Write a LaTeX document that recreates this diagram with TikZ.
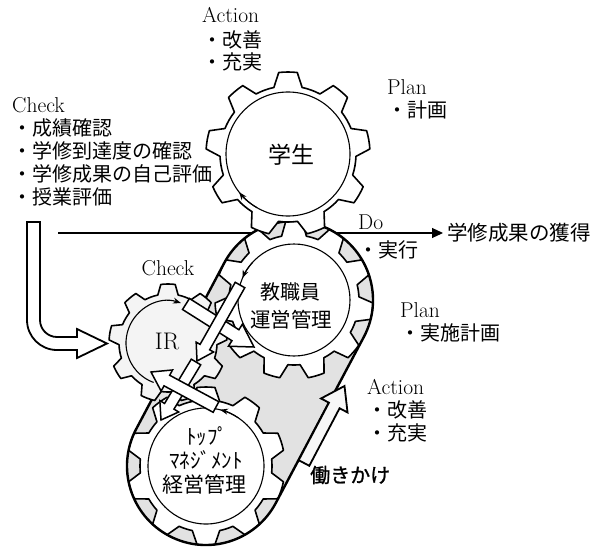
\documentclass[tikz,border=0pt]{standalone}
\usepackage{fontspec}
\newfontfamily\jp{Noto Sans CJK JP}
\newfontfamily\jpb[FakeBold=1.2]{Noto Sans CJK JP}
\usetikzlibrary{calc,arrows.meta}

\newcommand\blockarrow[6]{%
  \coordinate (hb) at ($(#3)!#6!(#2)$);
  \path[#1] ($(#2)!#4!90:(#3)$) -- ($(hb)!#4!90:(#3)$) -- ($(hb)!#5!90:(#3)$) -- (#3)
    -- ($(hb)!#5!-90:(#3)$) -- ($(hb)!#4!-90:(#3)$) -- ($(#2)!#4!-90:(#3)$) -- cycle;}

\tikzset{
  pics/gear/.style n args={6}{code={%
    \path[pic actions] ({#2-#5}:#3pt)
    \foreach \k [evaluate=\k as \a using #2+(\k-1)*360/#1] in {1,...,#1}{
      -- ({\a-#6}:#4pt) arc[start angle={\a-#6},end angle={\a+#6},radius=#4pt]
      -- ({\a+#5}:#3pt) arc[start angle={\a+#5},end angle={\a+360/#1-#5},radius=#3pt]
    } -- cycle;}},
  gearline/.style={draw=black, line width=1.6pt, line join=round},
  inner/.style={draw=black, line width=1.1pt},
  rot/.style={inner, -{Stealth[length=8pt,width=6pt]}},
  barrow/.style={draw=black, fill=white, line width=1.5pt, line join=miter},
  lat/.style={font=\fontsize{21.5}{24}\selectfont, inner sep=0pt},
  jtx/.style={font=\jp\fontsize{20}{24}\selectfont, inner sep=0pt},
}

\begin{document}
\begin{tikzpicture}[x=1pt,y=1pt]
\useasboundingbox (0,0) rectangle (601,-548);

% centres
\coordinate (TopC) at (288,-154);
\coordinate (M) at (294,-300);
\coordinate (B) at (206,-466);
\coordinate (IRc) at (168,-343);

% Do line
\node[font=\jp\fontsize{20.5}{24}\selectfont, inner sep=0pt, anchor=west] (goal) at (447,-233) {学修成果の獲得};
\coordinate (dostart) at (58,-233);
\draw[line width=1.1pt, -{Triangle[length=11pt,width=10pt]}] (dostart) -- ([xshift=-4pt]goal.west);

% capsule fill
\fill[gray!23] ($(M)+(-27.9:79pt)$) arc[start angle=-27.9,end angle=152.1,radius=79pt]
  -- ($(B)+(152.1:79pt)$) arc[start angle=152.1,end angle=332.1,radius=79pt] -- cycle;

% lower gears
\pic[gearline, fill=white] at (M) {gear={11}{90}{65}{79}{11}{6}};
\pic[gearline, fill=white] at (B) {gear={10}{90}{66}{79}{12}{6.5}};

% capsule outline
\draw[line width=2.4pt] ($(M)+(-27.9:79pt)$) arc[start angle=-27.9,end angle=152.1,radius=79pt]
  -- ($(B)+(152.1:79pt)$) arc[start angle=152.1,end angle=332.1,radius=79pt] -- cycle;

% working arrow
\coordinate (wtail) at (304,-463);
\coordinate (wtip) at (344.5,-386);
\blockarrow{draw=black, fill=gray!6, line width=1.8pt}{wtail}{wtip}{6pt}{15pt}{22pt}

% top gear
\pic[gearline, fill=white] at (TopC) {gear={9}{90}{68}{82}{12}{6.5}};
% IR gear
\pic[gearline, fill=gray!9] at (IRc) {gear={9}{90}{49}{59}{12}{7}};

% inner circles
\draw[inner] (TopC) circle[radius=62pt];
\draw[rot] ($(TopC)+(240:62pt)$) arc[start angle=240,end angle=218,radius=62pt];
\draw[inner] (M) circle[radius=56pt];
\draw[rot] ($(M)+(138:56pt)$) arc[start angle=138,end angle=157,radius=56pt];
\draw[inner] (B) circle[radius=58pt];
\draw[rot] ($(B)+(56:58pt)$) arc[start angle=56,end angle=76,radius=58pt];
\draw[rot] ($(IRc)+(250:42pt)$) arc[start angle=250,end angle=72,radius=42pt];

% white arrows between IR and the gears
\coordinate (ptail) at (186,-304);
\coordinate (ptip) at (254,-347);
\blockarrow{barrow}{ptail}{ptip}{6.5pt}{13pt}{22pt}
\coordinate (qtail) at (240,-285);
\coordinate (qtip) at (197,-361);
\blockarrow{barrow}{qtail}{qtip}{5.5pt}{10pt}{16pt}
\coordinate (rtail) at (196,-362);
\coordinate (rtip) at (161,-420);
\blockarrow{barrow}{rtail}{rtip}{5.5pt}{11pt}{16pt}
\coordinate (stail) at (216,-407);
\coordinate (stip) at (151,-372);
\blockarrow{barrow}{stail}{stip}{6pt}{12pt}{18pt}

% U-shaped arrow from Check list to IR
\draw[barrow, line width=1.8pt] (27,-222) -- (27,-320) arc[start angle=180,end angle=270,radius=30pt]
  -- (77,-350) -- (77,-358) -- (107,-343.5) -- (77,-329) -- (77,-337) -- (57,-337)
  arc[start angle=270,end angle=180,radius=17pt] -- (40,-222) -- cycle;

% gear labels
\node[font=\jp\fontsize{23}{26}\selectfont, inner sep=0pt] (t1) at (291,-155) {学生};
\node[font=\jp\fontsize{20}{24}\selectfont, inner sep=0pt] (t2a) at (290,-292) {教職員};
\node[font=\jp\fontsize{20.5}{24}\selectfont, inner sep=0pt] (t2b) at (291,-320) {運営管理};
\node[font=\fontsize{24}{26}\selectfont, inner sep=0pt] (t3) at (167,-341) {IR};
\node[font=\jp\fontsize{21}{24}\selectfont, inner sep=0pt] (t4a) at (207,-436) {ﾄｯﾌﾟ};
\node[font=\jp\fontsize{21}{24}\selectfont, inner sep=0pt] (t4b) at (206,-460) {ﾏﾈｼﾞﾒﾝﾄ};
\node[font=\jp\fontsize{21}{24}\selectfont, inner sep=0pt] (t4c) at (204,-484) {経営管理};

% PDCA labels
\node[lat, anchor=west] (a1) at (202,-15) {Action};
\node[jtx, anchor=west] (a1a) at (202,-40) {・改善};
\node[jtx, anchor=west] (a1b) at (202,-62) {・充実};
\node[lat, anchor=west] (p1) at (387,-87) {Plan};
\node[jtx, anchor=west] (p1a) at (387,-110) {・計画};
\node[lat, anchor=west] (c1) at (12,-105) {Check};
\node[jtx, anchor=west] (c1a) at (12,-128) {・成績確認};
\node[jtx, anchor=west] (c1b) at (12,-151) {・学修到達度の確認};
\node[jtx, anchor=west] (c1c) at (12,-174) {・学修成果の自己評価};
\node[jtx, anchor=west] (c1d) at (12,-197) {・授業評価};
\node[lat] (c2) at (168,-268) {Check};
\node[lat, anchor=west] (d1) at (358,-222) {Do};
\node[jtx, anchor=west] (d1a) at (358,-250) {・実行};
\node[lat, anchor=west] (p2) at (400,-310) {Plan};
\node[jtx, anchor=west] (p2a) at (400,-333) {・実施計画};
\node[lat, anchor=west] (a2) at (367,-387) {Action};
\node[jtx, anchor=west] (a2a) at (367,-410) {・改善};
\node[jtx, anchor=west] (a2b) at (367,-433) {・充実};
\node[font=\jpb\fontsize{20}{24}\selectfont, inner sep=0pt, anchor=west] (w) at (310,-475) {働きかけ};
\end{tikzpicture}
\end{document}
